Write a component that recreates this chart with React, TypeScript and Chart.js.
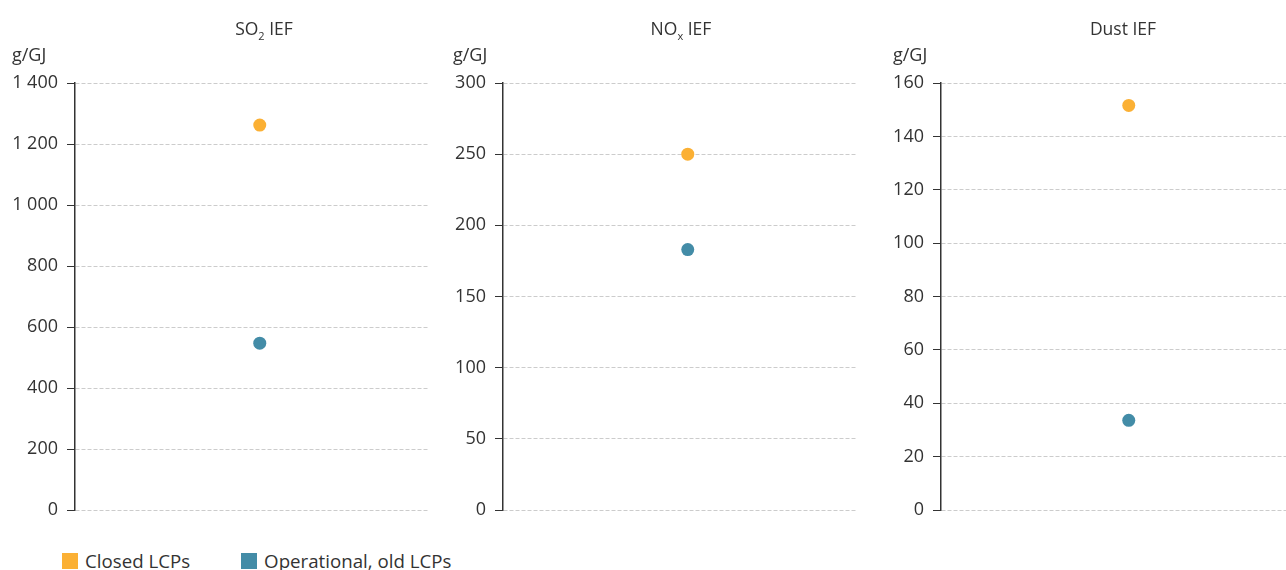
import React, { useEffect, useRef } from "react";
import { Chart, registerables } from "chart.js";

Chart.register(...registerables);

// ---- Data ----
const seriesNames = ["Closed LCPs", "Operational, old LCPs"];
const seriesColors = ["#fbb034", "#438ca7"];
const categories = [""];

const so2Values = [1262, 547];
const noxValues = [250, 183];
const dustValues = [151.6, 33.6];

const so2Axis = { max: 1400, step: 200 };
const noxAxis = { max: 300, step: 50 };
const dustAxis = { max: 160, step: 20 };

const FONT = "'Open Sans', 'Noto Sans', sans-serif";
const TEXT = "#333333";

const fmt = (v: number) => String(v).replace(/\B(?=(\d{3})+(?!\d))/g, " ");

type PanelProps = {
  values: number[];
  axis: { max: number; step: number };
  left: number;
  clipWidth: number;
  canvasWidth: number;
};

function Panel({ values, axis, left, clipWidth, canvasWidth }: PanelProps) {
  const ref = useRef<HTMLCanvasElement | null>(null);
  useEffect(() => {
    if (!ref.current) return;
    const chart = new Chart(ref.current, {
      type: "line",
      data: {
        labels: categories,
        datasets: seriesNames.map((name, i) => ({
          label: name,
          data: [values[i]],
          showLine: false,
          pointRadius: 6.5,
          pointHoverRadius: 6.5,
          pointBorderWidth: 0,
          pointBackgroundColor: seriesColors[i],
          borderColor: seriesColors[i],
          backgroundColor: seriesColors[i],
        })),
      },
      options: {
        animation: false,
        responsive: false,
        maintainAspectRatio: false,
        layout: { padding: { top: 83, bottom: 20, left: 0, right: 0 } },
        plugins: { legend: { display: false }, tooltip: { enabled: false }, title: { display: false } },
        scales: {
          x: { type: "category", offset: true, display: false },
          y: {
            min: 0,
            max: axis.max,
            afterFit: (s: any) => {
              s.width = 75;
            },
            ticks: {
              stepSize: axis.step,
              padding: 9,
              color: TEXT,
              font: { family: FONT, size: 18 },
              callback: (v: any) => fmt(Number(v)),
            },
            grid: {
              color: "#cccccc",
              lineWidth: 1,
              drawTicks: true,
              tickLength: 8,
              tickColor: TEXT,
              tickBorderDash: [],
              tickWidth: 1,
            },
            border: { display: true, color: TEXT, width: 1.5, dash: [4, 2] },
          },
        },
      },
    });
    return () => chart.destroy();
  }, []);
  return (
    <div style={{ position: "absolute", left, top: 0, width: clipWidth, height: 530, overflow: "hidden" }}>
      <canvas ref={ref} width={canvasWidth} height={530} style={{ display: "block" }} />
    </div>
  );
}

const titleStyle = (center: number): React.CSSProperties => ({
  position: "absolute",
  left: center - 150,
  width: 300,
  top: 15,
  textAlign: "center",
  fontFamily: FONT,
  fontSize: 17.5,
  color: TEXT,
  lineHeight: "26px",
});

const unitStyle = (left: number): React.CSSProperties => ({
  position: "absolute",
  left,
  top: 41,
  fontFamily: FONT,
  fontSize: 18,
  color: TEXT,
  lineHeight: "26px",
});

const sub: React.CSSProperties = { fontSize: 11, verticalAlign: "-5px", lineHeight: 0 };

export default function App() {
  return (
    <div style={{ position: "absolute", left: 0, top: 0, width: 1286, height: 570, overflow: "hidden", background: "#fff" }}>
      <Panel values={so2Values} axis={so2Axis} left={0} clipWidth={428} canvasWidth={451} />
      <Panel values={noxValues} axis={noxAxis} left={428} clipWidth={428} canvasWidth={451} />
      <Panel values={dustValues} axis={dustAxis} left={866} clipWidth={420} canvasWidth={457} />

      <div style={titleStyle(264)}>
        SO<span style={sub}>2</span> IEF
      </div>
      <div style={titleStyle(681)}>
        NO<span style={sub}>x</span> IEF
      </div>
      <div style={titleStyle(1123)}>Dust IEF</div>

      <div style={unitStyle(12)}>g/GJ</div>
      <div style={unitStyle(453)}>g/GJ</div>
      <div style={unitStyle(893)}>g/GJ</div>

      <div style={{ position: "absolute", left: 62, top: 548, display: "flex", alignItems: "center", fontFamily: FONT, fontSize: 18.7, color: TEXT, lineHeight: "26px" }}>
        {seriesNames.map((n, i) => (
          <div key={n} style={{ display: "flex", alignItems: "center", marginRight: i === 0 ? 51 : 0 }}>
            <span style={{ display: "inline-block", width: 16, height: 16, background: seriesColors[i], marginRight: 7 }} />
            <span>{n}</span>
          </div>
        ))}
      </div>
    </div>
  );
}
